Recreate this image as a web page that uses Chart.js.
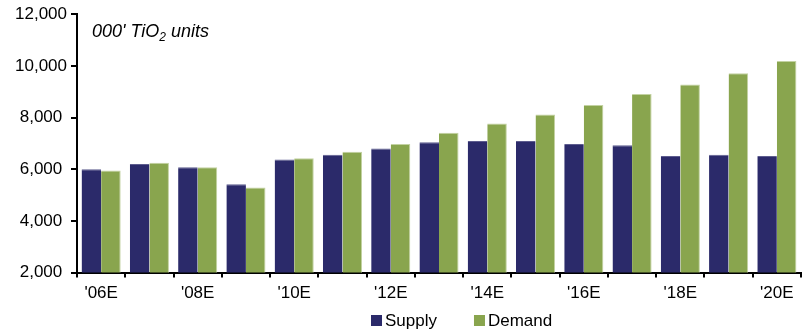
<!DOCTYPE html>
<html>
<head>
<meta charset="utf-8">
<script src="https://cdn.jsdelivr.net/npm/chart.js@4/dist/chart.umd.min.js"></script>
<style>
  body { margin: 0; background: #fff; }
  #wrap { width: 802px; height: 331px; }
</style>
</head>
<body>
<div id="wrap"><canvas id="tio2"></canvas></div>
<script>
  // years '06E .. '20E
  var years = ["'06E", "'07E", "'08E", "'09E", "'10E", "'11E", "'12E", "'13E",
               "'14E", "'15E", "'16E", "'17E", "'18E", "'19E", "'20E"];
  var supply = [6000, 6200, 6080, 5420, 6380, 6560, 6800, 7040, 7095, 7095, 6980, 6925, 6510, 6560, 6510];
  var demand = [5950, 6250, 6080, 5290, 6430, 6680, 6980, 7410, 7770, 8120, 8485, 8910, 9280, 9710, 10190];
  var yTicks = [2000, 4000, 6000, 8000, 10000, 12000];

  var FONT = 'Liberation Sans, Arial, sans-serif';

  // units note in the top-left corner, with a real subscript
  var unitsNote = {
    id: 'unitsNote',
    afterDraw: function (chart) {
      var ctx = chart.ctx;
      var x = 92, y = 37;
      ctx.save();
      ctx.fillStyle = '#000';
      ctx.textBaseline = 'alphabetic';
      ctx.font = 'italic 18px ' + FONT;
      ctx.fillText("000' TiO", x, y);
      x += ctx.measureText("000' TiO").width;
      ctx.font = 'italic 12px ' + FONT;
      ctx.fillText('2', x, y + 4);
      x += ctx.measureText('2').width;
      ctx.font = 'italic 18px ' + FONT;
      ctx.fillText(' units', x, y);
      ctx.restore();
    }
  };

  // legend under the axis: small squares, tight gap to the text
  var bottomLegend = {
    id: 'bottomLegend',
    afterDraw: function (chart) {
      var ctx = chart.ctx;
      var x = 371, y = 315;
      ctx.save();
      ctx.font = '17px ' + FONT;
      ctx.textBaseline = 'middle';
      chart.data.datasets.forEach(function (ds) {
        ctx.fillStyle = ds.backgroundColor;
        ctx.fillRect(x, y, 11, 11);
        ctx.fillStyle = '#000';
        ctx.fillText(ds.label, x + 14, y + 6);
        x += 14 + ctx.measureText(ds.label).width + 37;
      });
      ctx.restore();
    }
  };

  new Chart(document.getElementById('tio2'), {
    type: 'bar',
    data: {
      labels: years,
      datasets: [
        { label: 'Supply', data: supply, backgroundColor: '#2b2a6a',
          borderColor: '#5d5c8e', borderWidth: { top: 1, left: 0, right: 0, bottom: 0 } },
        { label: 'Demand', data: demand, backgroundColor: '#89a54e',
          borderColor: '#c3d2a2', borderWidth: { top: 1, left: 0, right: 1, bottom: 0 } }
      ]
    },
    options: {
      responsive: true,
      maintainAspectRatio: false,
      animation: false,
      layout: { padding: { top: 11, right: 1, left: 0, bottom: 21 } },
      datasets: { bar: { categoryPercentage: 0.81, barPercentage: 1 } },
      plugins: {
        tooltip: { enabled: false },
        legend: { display: false }
      },
      scales: {
        x: {
          grid: { drawOnChartArea: false, color: '#000', lineWidth: 2, tickLength: 5, offset: true },
          border: { color: '#000', width: 2 },
          ticks: {
            color: '#000', font: { family: FONT, size: 17 }, padding: 6,
            autoSkip: false, maxRotation: 0,
            callback: function (v, i) { return i % 2 === 0 ? years[i] : ''; }
          }
        },
        y: {
          min: yTicks[0], max: yTicks[yTicks.length - 1],
          afterFit: function (s) { s.width = 77; },
          afterBuildTicks: function (s) { s.ticks = yTicks.map(function (v) { return { value: v }; }); },
          grid: { drawOnChartArea: false, color: '#000', lineWidth: 2, tickLength: 6 },
          border: { color: '#000', width: 2 },
          ticks: {
            color: '#000', font: { family: FONT, size: 17 }, padding: 4, crossAlign: 'center',
            callback: function (v) { return v.toLocaleString('en-US'); }
          }
        }
      }
    },
    plugins: [unitsNote, bottomLegend]
  });
</script>
</body>
</html>
